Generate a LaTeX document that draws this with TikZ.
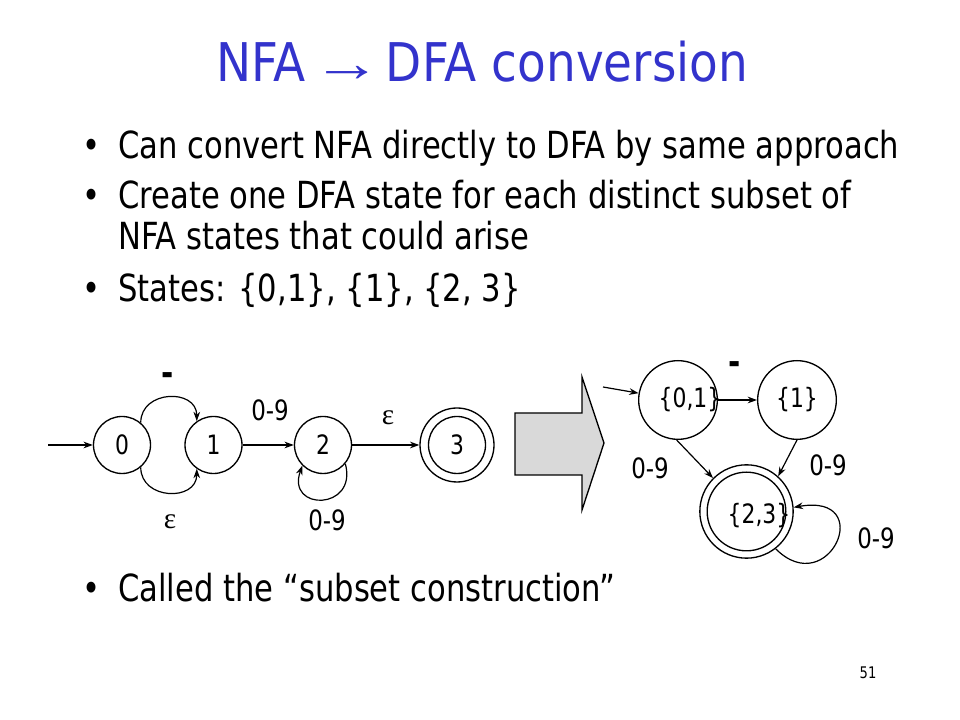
\documentclass[tikz,border=0pt]{standalone}
\usepackage{graphicx}
\usepackage{fontspec}
\setmainfont{DejaVu Sans}[FakeStretch=0.82]
\newfontfamily\titlefont{DejaVu Sans}[FakeStretch=0.88]
\newfontfamily\grk{Liberation Serif}
\usetikzlibrary{arrows.meta}
\definecolor{titleblue}{RGB}{51,51,204}
\definecolor{arrowgray}{RGB}{217,217,217}
\tikzset{
  state/.style={circle, draw, line width=1pt, inner sep=0pt, minimum size=42.75pt, font=\fontsize{20}{24}\selectfont},
  dstate/.style={circle, draw, line width=1pt, inner sep=0pt, minimum size=59pt},
  trans/.style={-{Stealth[length=7pt,width=5pt]}, line width=0.9pt},
  lbl/.style={inner sep=0pt, font=\fontsize{21}{25}\selectfont},
  glbl/.style={inner sep=0pt, font=\fontsize{22}{26}\grk},
  minuslbl/.style={inner sep=0pt, font=\fontsize{27}{30}\bfseries},
  bul/.style={anchor=base west, inner sep=0pt, font=\fontsize{28}{34}\selectfont},
  txt/.style={anchor=base west, inner sep=0pt, font=\fontsize{28}{34}\selectfont},
}
\begin{document}
\begin{tikzpicture}[x=0.75pt,y=0.75pt]
\useasboundingbox (0,0) rectangle (960,720);
% title
\node[anchor=base, inner sep=0pt, text=titleblue, font=\fontsize{40}{48}\titlefont] (title) at (482,638) {NFA\hspace{5pt}\scalebox{1.3}[1]{\grk →}\hspace{3pt}DFA conversion};
% bullets
\node[bul] (d1) at (82,561) {•};
\node[txt] (t1) at (118,561) {Can convert NFA directly to DFA by same approach};
\node[bul] (d2) at (82,511) {•};
\node[txt] (t2) at (118,511) {Create one DFA state for each distinct subset of};
\node[txt] (t2b) at (118,470) {NFA states that could arise};
\node[bul] (d3) at (82,418) {•};
\node[txt] (t3) at (118,418) {States: \{0,1\}, \{1\}, \{2, 3\}};
\node[bul] (d4) at (82,118) {•};
\node[txt] (t4) at (118,118) {Called the “subset construction”};
% NFA
\node[state] (s0) at (122,275) {0};
\node[state] (s1) at (213.5,275) {1};
\node[state] (s2) at (323,275) {2};
\node[state, minimum size=55.5pt] (s3) at (457,275) {};
\node[state] (s3i) at (457,275) {3};
\coordinate (nstart) at (48,275);
\draw[trans] (nstart) -- (s0);
\draw[trans] (s0.50) to[out=90,in=90,looseness=1.5] (s1.125);
\draw[trans] (s0.-50) to[out=-90,in=-90,looseness=1.5] (s1.-125);
\draw[trans] (s1) -- (s2);
\draw[trans] (s2) -- (s3);
\draw[trans] (s2.-40) to[out=-75,in=-110,looseness=2.9] (s2.-135);
\node[minuslbl] (l01a) at (168,341) {-};
\node[glbl] (l01b) at (170,198) {ε};
\node[lbl] (l12) at (270,310) {0-9};
\node[glbl] (l23) at (388,302) {ε};
\node[lbl] (l22) at (327,200) {0-9};
% big arrow
\draw[line width=1pt, fill=arrowgray, line join=miter]
  (515,307) -- (582,307) -- (582,343) -- (604,277) -- (582,210) -- (582,245) -- (515,245) -- cycle;
% DFA
\node[dstate] (A) at (678,320) {};
\node[inner sep=0pt, font=\fontsize{20}{24}\selectfont] (At) at (690,320) {\{0,1\}};
\node[dstate] (B) at (797,320) {};
\node[inner sep=0pt, font=\fontsize{20}{24}\selectfont] (Bt) at (797,320) {\{1\}};
\node[dstate, minimum size=70pt] (C) at (746.5,208.5) {};
\node[dstate] (Ci) at (746.5,208.5) {};
\node[inner sep=0pt, font=\fontsize{20}{24}\selectfont] (Ct) at (759,204) {\{2,3\}};
\coordinate (dstart) at (603,333);
\draw[trans] (dstart) -- (A);
\draw[trans] (A) -- (B);
\draw[trans] (A.-92) -- (C.135);
\draw[trans] (B.-90) -- (C.48);
\draw[trans] (C.-52) .. controls +(-45:75) and +(10:85) .. (C.5);
\node[minuslbl] (lab) at (735,352) {-};
\node[lbl] (lac) at (650,252) {0-9};
\node[lbl] (lbc) at (828,255) {0-9};
\node[lbl] (lcc) at (876,182) {0-9};
% page number
\node[inner sep=0pt, font=\fontsize{12}{14}\selectfont] (pg) at (868,47) {51};
\end{tikzpicture}
\end{document}
